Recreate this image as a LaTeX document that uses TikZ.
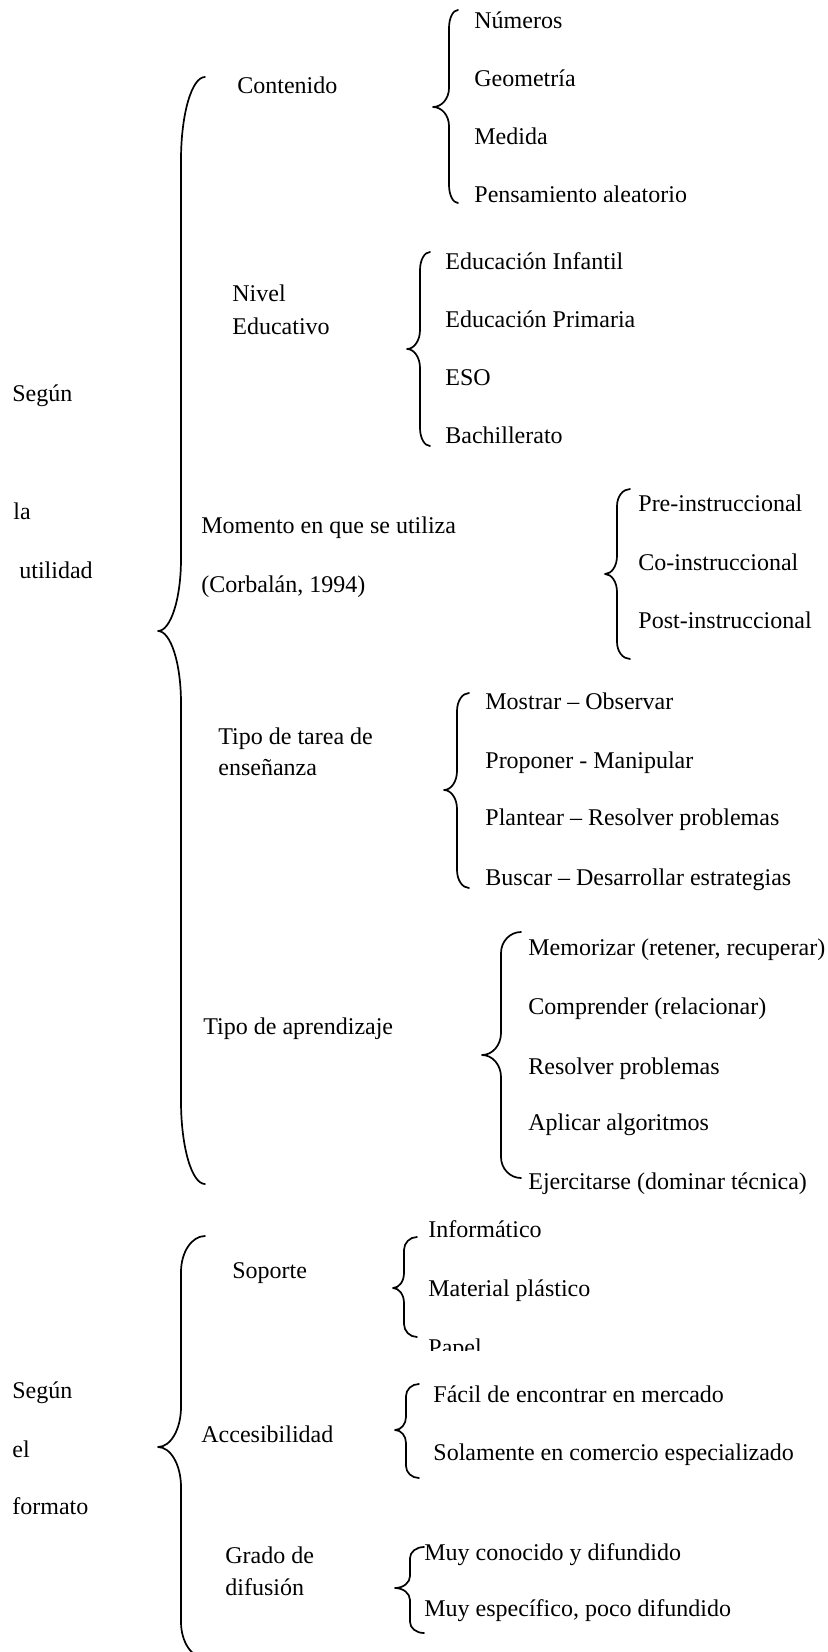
\documentclass[tikz,border=0pt]{standalone}
\usepackage{fontspec}
\setmainfont{Liberation Serif}
\begin{document}
\begin{tikzpicture}[x=0.5pt,y=-0.5pt,
  txt/.style={anchor=base west,inner sep=0pt,font=\fontsize{12}{14}\selectfont},
  bracestyle/.style={line width=0.85pt,line cap=round,line join=round}]
\newcommand{\curlyb}[8]{%
 \pgfmathsetmacro\cbA{#2-0.552*(#2-#1)}%
 \pgfmathsetmacro\cbB{#4+#7}%
 \pgfmathsetmacro\cbC{#4+0.448*#7}%
 \pgfmathsetmacro\cbD{#5-#8}%
 \pgfmathsetmacro\cbE{#5-0.448*#8}%
 \pgfmathsetmacro\cbF{#3+0.552*(#1-#3)}%
 \pgfmathsetmacro\cbG{#5+0.448*#8}%
 \pgfmathsetmacro\cbH{#5+#8}%
 \pgfmathsetmacro\cbI{#6-#7}%
 \pgfmathsetmacro\cbJ{#6-0.448*#7}%
 \draw[bracestyle] (#2,#4) .. controls (\cbA,#4) and (#1,\cbC) .. (#1,\cbB) -- (#1,\cbD) .. controls (#1,\cbE) and (\cbF,#5) .. (#3,#5) .. controls (\cbF,#5) and (#1,\cbG) .. (#1,\cbH) -- (#1,\cbI) .. controls (#1,\cbJ) and (\cbA,#6) .. (#2,#6);%
}
\useasboundingbox (0,0) rectangle (827,1652);
\clip (0,0) rectangle (827,1652);

% ---- Según la utilidad ----
\node[txt] (s1a) at (12,402) {Según};
\node[txt] (s1b) at (13,519) {la};
\node[txt] (s1c) at (19,578) {utilidad};
\curlyb{181}{205}{158}{77}{631}{1184}{83}{72}

% Contenido
\node[txt] (cont) at (237,94) {Contenido};
\curlyb{449}{458}{433}{10}{107}{203}{18}{19}
\node[txt] (num) at (474,29) {Números};
\node[txt] (geo) at (474,87) {Geometría};
\node[txt] (med) at (474,145) {Medida};
\node[txt] (pen) at (474,203) {Pensamiento aleatorio};

% Nivel educativo
\node[txt] (niv1) at (232,302) {Nivel};
\node[txt] (niv2) at (232,335) {Educativo};
\curlyb{420}{430}{407}{252}{349}{446}{18}{19}
\node[txt] (ei) at (445,270) {Educación Infantil};
\node[txt] (ep) at (445,328) {Educación Primaria};
\node[txt] (eso) at (445,386) {ESO};
\node[txt] (bach) at (445,444) {Bachillerato};

% Momento
\node[txt] (mom1) at (201,533) {Momento en que se utiliza};
\node[txt] (mom2) at (201,592) {(Corbalán, 1994)};
\curlyb{617}{630}{605}{489}{574}{659}{17}{18}
\node[txt] (pre) at (638,511) {Pre-instruccional};
\node[txt] (co) at (638,570) {Co-instruccional};
\node[txt] (post) at (638,628) {Post-instruccional};

% Tipo de tarea
\node[txt] (tt1) at (218,744) {Tipo de tarea de};
\node[txt] (tt2) at (218,775) {enseñanza};
\curlyb{457}{469}{444}{693}{790}{888}{18}{19}
\node[txt] (mo) at (485,709) {Mostrar – Observar};
\node[txt] (pm) at (485,768) {Proponer - Manipular};
\node[txt] (pr) at (485,825) {Plantear – Resolver problemas};
\node[txt] (bd) at (485,885) {Buscar – Desarrollar estrategias};

% Tipo de aprendizaje
\node[txt] (ta) at (203,1034) {Tipo de aprendizaje};
\curlyb{501}{521}{482}{932}{1055}{1178}{21}{22}
\node[txt] (mem) at (528,955) {Memorizar (retener, recuperar)};
\node[txt] (comp) at (528,1014) {Comprender (relacionar)};
\node[txt] (res) at (528,1074) {Resolver problemas};
\node[txt] (apl) at (528,1130) {Aplicar algoritmos};
\node[txt] (ejer) at (528,1189) {Ejercitarse (dominar técnica)};

% ---- Según el formato ----
\node[txt] (s2a) at (12,1398) {Según};
\node[txt] (s2b) at (12,1457) {el};
\node[txt] (s2c) at (12,1514) {formato};
\curlyb{181}{205}{158}{1236}{1447}{1658}{36}{40}

% Soporte
\node[txt] (sop) at (232,1278) {Soporte};
\curlyb{404}{417}{393}{1237}{1288}{1337}{13}{15}
\node[txt] (inf) at (428,1237) {Informático};
\node[txt] (mat) at (428,1296) {Material plástico};
\begin{scope}
\clip (420,1320) rectangle (540,1350);
\node[txt] (pap) at (428,1355) {Papel};
\end{scope}

% Accesibilidad
\node[txt] (acc) at (201,1442) {Accesibilidad};
\curlyb{406}{419}{395}{1384}{1430}{1478}{12}{13}
\node[txt] (fac) at (433,1402) {Fácil de encontrar en mercado};
\node[txt] (sol) at (433,1460) {Solamente en comercio especializado};

% Grado de difusion
\node[txt] (gd1) at (225,1563) {Grado de};
\node[txt] (gd2) at (225,1595) {difusión};
\curlyb{410}{424}{395}{1547}{1588}{1633}{11}{12}
\node[txt] (muy1) at (424,1560) {Muy conocido y difundido};
\node[txt] (muy2) at (424,1616) {Muy específico, poco difundido};
\end{tikzpicture}
\end{document}
